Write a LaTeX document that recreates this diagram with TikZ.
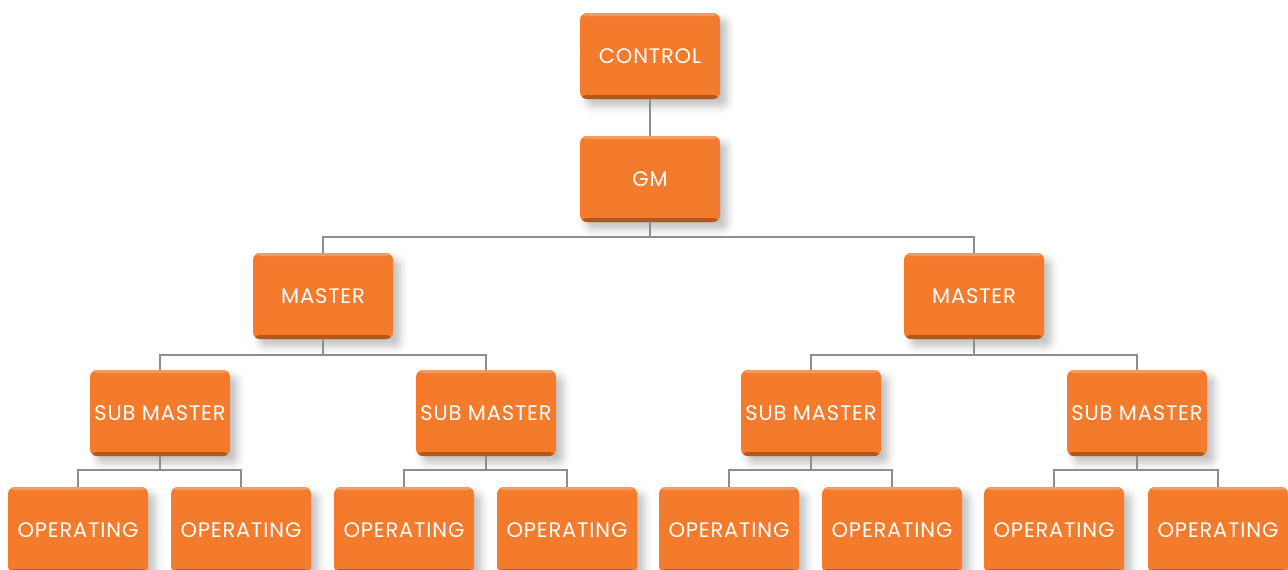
\documentclass[tikz,border=0pt]{standalone}
\usepackage{fontspec}
\setmainfont{Poppins}[LetterSpace=4]
\usetikzlibrary{shadows.blur}
\definecolor{org}{HTML}{F47B2C}
\definecolor{orgdark}{HTML}{B5561A}
\definecolor{orglight}{HTML}{F79A5C}
\definecolor{conn}{HTML}{8E8E8E}
\tikzset{
  box/.style={rounded corners=7pt, fill=org, minimum width=140pt, minimum height=86pt,
    inner sep=0pt, text=white, font=\fontsize{21}{24}\selectfont,
    blur shadow={shadow xshift=7pt, shadow yshift=-7pt, shadow blur radius=8pt, shadow opacity=25},
    path picture={
      \fill[orgdark] ([yshift=-1pt]path picture bounding box.south west) rectangle ([yshift=4pt]path picture bounding box.south east);
      \fill[orglight] ([yshift=1pt]path picture bounding box.north west) rectangle ([yshift=-3pt]path picture bounding box.north east);
    }},
  lk/.style={draw=conn, line width=2.6pt}
}
\begin{document}
\begin{tikzpicture}[x=1pt,y=-1pt]
\useasboundingbox (0,0) rectangle (1288,570);
\clip (0,0) rectangle (1288,570);
\node[box] (ctl) at (650,56) {CONTROL};
\node[box] (gm) at (650,179) {GM};
\node[box] (m1) at (323,296) {MASTER};
\node[box] (m2) at (974,296) {MASTER};
\node[box] (s1) at (160,413) {SUB MASTER};
\node[box] (s2) at (486,413) {SUB MASTER};
\node[box] (s3) at (811,413) {SUB MASTER};
\node[box] (s4) at (1137,413) {SUB MASTER};
\node[box] (o1) at (78,530) {OPERATING};
\node[box] (o2) at (241,530) {OPERATING};
\node[box] (o3) at (404,530) {OPERATING};
\node[box] (o4) at (567,530) {OPERATING};
\node[box] (o5) at (729,530) {OPERATING};
\node[box] (o6) at (892,530) {OPERATING};
\node[box] (o7) at (1054,530) {OPERATING};
\node[box] (o8) at (1218,530) {OPERATING};
\draw[lk] (ctl.south) -- (gm.north);
\draw[lk] (gm.south) -- (650,237) -| (m1.north);
\draw[lk] (650,237) -| (m2.north);
\draw[lk] (m1.south) -- (323,355) -| (s1.north);
\draw[lk] (323,355) -| (s2.north);
\draw[lk] (m2.south) -- (974,355) -| (s3.north);
\draw[lk] (974,355) -| (s4.north);
\draw[lk] (s1.south) -- (160,470) -| (o1.north);
\draw[lk] (160,470) -| (o2.north);
\draw[lk] (s2.south) -- (486,470) -| (o3.north);
\draw[lk] (486,470) -| (o4.north);
\draw[lk] (s3.south) -- (811,470) -| (o5.north);
\draw[lk] (811,470) -| (o6.north);
\draw[lk] (s4.south) -- (1137,470) -| (o7.north);
\draw[lk] (1137,470) -| (o8.north);
\end{tikzpicture}
\end{document}
